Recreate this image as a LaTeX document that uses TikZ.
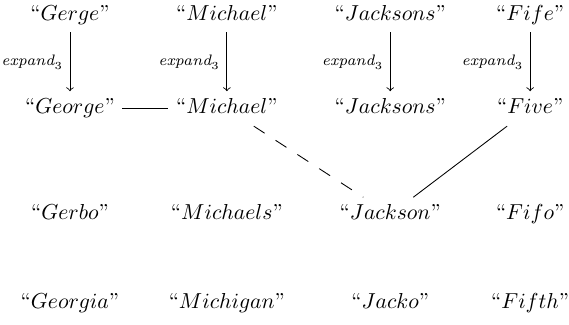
\documentclass[tikz,border=0pt]{standalone}

\tikzstyle{word} = [text height=1.6ex, text depth=0.5ex]
\tikzstyle{arrow} = [->]
\tikzstyle{link} = [-]
\tikzstyle{lbl} = [anchor=east, font=\scriptsize, inner sep=2pt, xshift=-1pt]

\begin{document}
\begin{tikzpicture}[node distance=1cm]
  \useasboundingbox (0,0) rectangle (9.23,-5.27);

  \node (ge1) [word] at (1.135,-0.243) {``$Gerge$''};
  \node (mi1) [word, right of=ge1, xshift=1.545cm] {``$Michael$''};
  \node (ja1) [word, right of=mi1, xshift=1.65cm] {``$Jacksons$''};
  \node (fi1) [word, right of=ja1, xshift=1.27cm] {``$Fife$''};

  \node (ge2) [word, below of=ge1, yshift=-0.52cm] {``$George$''};
  \node (mi2) [word, below of=mi1, yshift=-0.52cm] {``$Michael$''};
  \node (ja2) [word, below of=ja1, yshift=-0.52cm] {``$Jacksons$''};
  \node (fi2) [word, below of=fi1, yshift=-0.52cm] {``$Five$''};

  \node (ge3) [word, below of=ge2, yshift=-0.72cm] {``$Gerbo$''};
  \node (mi3) [word, below of=mi2, yshift=-0.72cm] {``$Michaels$''};
  \node (ja3) [word, below of=ja2, yshift=-0.72cm] {``$Jackson$''};
  \node (fi3) [word, below of=fi2, yshift=-0.72cm] {``$Fifo$''};

  \node (ge4) [word, below of=ge3, yshift=-0.445cm] {``$Georgia$''};
  \node (mi4) [word, below of=mi3, yshift=-0.445cm] {``$Michigan$''};
  \node (ja4) [word, below of=ja3, yshift=-0.445cm] {``$Jacko$''};
  \node (fi4) [word, below of=fi3, yshift=-0.445cm] {``$Fifth$''};

  % --- %

  \draw [arrow] (ge1) -- node[lbl] {$\textit{expand}_3$} (ge2);
  \draw [arrow] (mi1) -- node[lbl] {$\textit{expand}_3$} (mi2);
  \draw [arrow] (ja1) -- node[lbl] {$\textit{expand}_3$} (ja2);
  \draw [arrow] (fi1) -- node[lbl] {$\textit{expand}_3$} (fi2);

  \draw [link] (ge2) -- (mi2);
  \draw [link, dashed, dash pattern=on 6pt off 6pt] (mi2) -- (ja3);
  \draw [link] (fi2) -- (ja3);

\end{tikzpicture}
\end{document}
